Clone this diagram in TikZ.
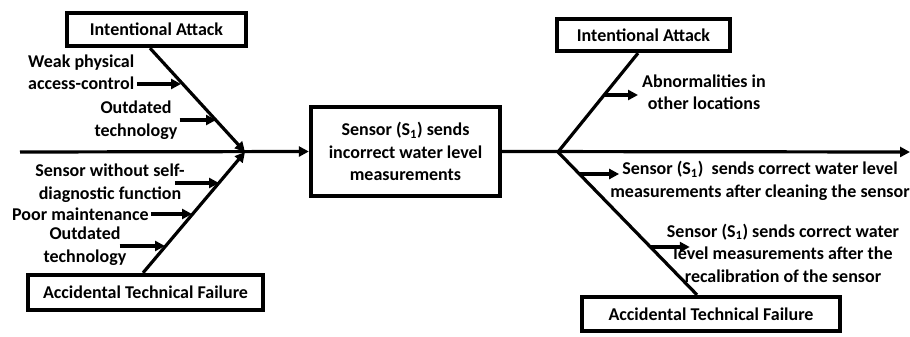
\documentclass[tikz,border=0pt]{standalone}
\usepackage{fontspec}
\setmainfont{Carlito}
\usetikzlibrary{arrows.meta,calc}
\begin{document}
\begin{tikzpicture}[x=1pt,y=-1pt,
  box/.style={draw, line width=4.3pt, inner sep=0pt, font=\bfseries\fontsize{18}{22.5}\selectfont, align=center},
  lbl/.style={inner sep=0pt, font=\bfseries\fontsize{18}{22.5}\selectfont, align=center},
  ln/.style={line width=3.2pt},
  arr/.style={line width=3.2pt, -{Triangle[length=10pt,width=10pt]}}]
\useasboundingbox (0,0) rectangle (910,337);
% boxes
\node[box, minimum width=179pt, minimum height=33pt] (ia1) at (156.5,29.5) {Intentional Attack};
\node[box, minimum width=235pt, minimum height=35pt] (acc1) at (145.5,292.5) {Accidental Technical Failure};
\node[box, minimum width=189pt, minimum height=89pt] (eff) at (405.5,151.5) {Sensor (S\textsubscript{1}) sends\\incorrect water level\\measurements};
\node[box, minimum width=173pt, minimum height=32pt] (ia2) at (643.5,35) {Intentional Attack};
\node[box, minimum width=258pt, minimum height=34pt] (acc2) at (711,314) {Accidental Technical Failure};
% junctions and free ends
\coordinate (jL) at (245,152);
\coordinate (jR) at (558,152);
\coordinate (startL) at (20,152);
\coordinate (endR) at (910,152);
% main spine
\draw[arr] (startL) -- (eff.west);
\draw[arr] (eff.east) -- (endR);
% left bones
\draw[arr] ($(ia1.south)+(-6.5,0)$) -- (jL);
\draw[arr] ($(acc1.north)+(-2.5,0)$) -- (jL);
% right bones
\draw[ln] (jR) -- ($(ia2.south)+(-5.5,0)$);
\draw[ln] (jR) -- ($(acc2.north)+(-14,0)$);
% labels
\node[lbl, anchor=west, align=left] (t1) at (28,72.5) {Weak physical\\access-control};
\node[lbl] (t2) at (136,120) {Outdated\\technology};
\node[lbl] (t3) at (110,183) {Sensor without self-\\diagnostic function};
\node[lbl, anchor=west] (t4) at (12,214) {Poor maintenance};
\node[lbl] (t5) at (85,246) {Outdated\\technology};
\node[lbl] (t6) at (704,92) {Abnormalities in\\other locations};
\node[lbl] (t7) at (760,181) {Sensor (S\textsubscript{1})\ \ sends correct water level\\measurements after cleaning the sensor};
\node[lbl] (t8) at (783,253) {Sensor (S\textsubscript{1}) sends correct water\\level measurements after the\\recalibration of the sensor};
% points on bones
\coordinate (c1) at (181,84);
\coordinate (c2) at (216,120);
\coordinate (c3) at (219,183);
\coordinate (c4) at (192,214);
\coordinate (c5) at (165,246);
\coordinate (c6) at (604,95);
\coordinate (c7) at (579,174);
\coordinate (c8) at (650,247);
% small arrows
\draw[arr] ([xshift=3pt]t1.east |- c1) -- (c1);
\draw[arr] ([xshift=2pt]t2.east |- c2) -- (c2);
\draw[arr] ([xshift=-10pt]t3.east |- c3) -- (c3);
\draw[arr] ([xshift=2pt]t4.east |- c4) -- (c4);
\draw[arr] ([xshift=-7pt]t5.east |- c5) -- (c5);
\draw[arr] (c6) -- ([xshift=-4pt]t6.west |- c6);
\draw[arr] (c7) -- ([xshift=9pt]t7.west |- c7);
\draw[arr] (c8) -- ([xshift=23pt]t8.west |- c8);
\end{tikzpicture}
\end{document}
